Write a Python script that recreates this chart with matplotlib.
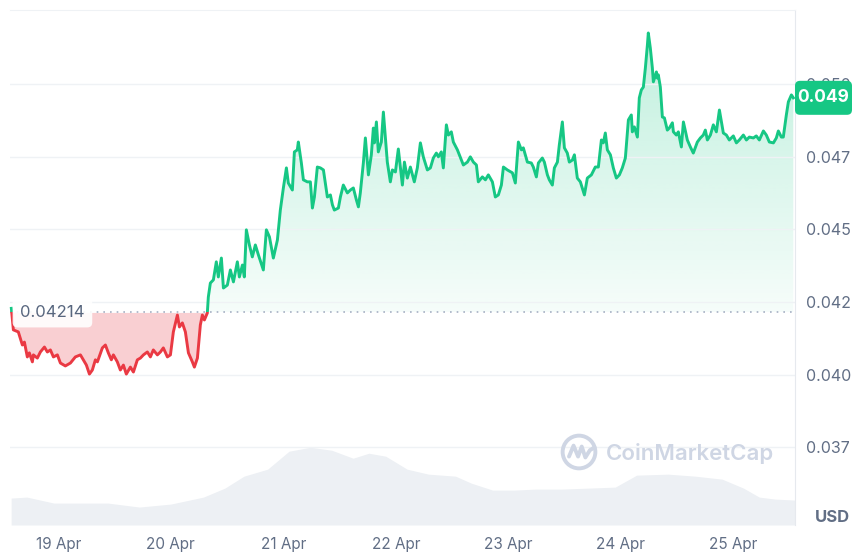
import numpy as np
import matplotlib
matplotlib.use("Agg")
import matplotlib.pyplot as plt
import matplotlib.dates as mdates
from matplotlib.patches import Rectangle, Circle, FancyBboxPatch
from matplotlib.path import Path

plt.rcParams['font.family'] = ['Inter', 'DejaVu Sans']

# --------------------------
# data
# --------------------------
start_day = np.datetime64('2024-04-19')
open_price = 0.04214
last_label = '0.049'

# time in days since 19 Apr 00:00
t_days = [
    -0.418, -0.400, -0.356, -0.320, -0.302, -0.276, -0.258, -0.231, -0.222, -0.187,
    -0.160, -0.124, -0.098, -0.071, -0.044, -0.009, 0.018, 0.062, 0.107, 0.151,
    0.196, 0.222, 0.249, 0.276, 0.302, 0.329, 0.347, 0.391, 0.418, 0.444,
    0.471, 0.489, 0.524, 0.551, 0.578, 0.604, 0.640, 0.667, 0.702, 0.729,
    0.756, 0.791, 0.818, 0.844, 0.880, 0.907, 0.933, 0.969, 0.996, 1.022,
    1.058, 1.076, 1.102, 1.129, 1.156, 1.191, 1.209, 1.236, 1.262, 1.280,
    1.298, 1.324,
    1.333, 1.351, 1.378, 1.404, 1.422, 1.449, 1.467, 1.502, 1.529, 1.556,
    1.591, 1.609, 1.636, 1.653, 1.671, 1.698, 1.724, 1.751, 1.778, 1.822,
    1.849, 1.876, 1.911, 1.947, 1.973, 2.000, 2.027, 2.044, 2.080, 2.098,
    2.124, 2.133, 2.160, 2.178, 2.213, 2.240, 2.258, 2.276, 2.302, 2.329,
    2.356, 2.391, 2.418, 2.436, 2.453, 2.489, 2.507, 2.533, 2.569, 2.596,
    2.622, 2.649, 2.667,
    2.684, 2.711, 2.729, 2.756, 2.782, 2.800, 2.809, 2.827, 2.844, 2.871,
    2.889, 2.924, 2.951, 2.969, 2.996, 3.022, 3.058, 3.076, 3.102, 3.129,
    3.164, 3.191, 3.218, 3.244, 3.280, 3.307, 3.333, 3.360, 3.378, 3.404,
    3.422, 3.449, 3.467, 3.493, 3.511, 3.547, 3.564, 3.600, 3.636, 3.662,
    3.689, 3.716, 3.733, 3.769, 3.796, 3.822, 3.858, 3.884, 3.911, 3.938,
    3.956, 3.991,
    4.036, 4.062, 4.089, 4.116, 4.133, 4.169, 4.204, 4.222, 4.249, 4.267,
    4.302, 4.320, 4.347, 4.364, 4.391, 4.409, 4.436, 4.453, 4.480, 4.498,
    4.524, 4.542, 4.569, 4.587, 4.613, 4.640, 4.676, 4.702, 4.738, 4.773,
    4.800, 4.827, 4.844, 4.862, 4.880, 4.907, 4.933, 4.960, 4.987, 5.013,
    5.040, 5.067, 5.093, 5.102, 5.120, 5.147, 5.164, 5.182, 5.200, 5.218,
    5.236, 5.244, 5.262, 5.280, 5.289, 5.316, 5.324, 5.333, 5.351, 5.369,
    5.387, 5.413, 5.431, 5.458, 5.467, 5.493, 5.511, 5.538, 5.556, 5.591,
    5.618, 5.644, 5.680, 5.707, 5.733, 5.751, 5.769, 5.796, 5.822, 5.849,
    5.876, 5.911, 5.938, 5.964, 6.000, 6.027, 6.053, 6.089, 6.116, 6.142,
    6.178, 6.204, 6.231, 6.267, 6.293, 6.320, 6.356, 6.382, 6.400, 6.427,
    6.444, 6.471, 6.489, 6.516, 6.533,
]

price = [
    0.04228, 0.04154, 0.04147, 0.04102, 0.04112, 0.04061, 0.04075, 0.04044, 0.04068, 0.04057,
    0.04078, 0.04095, 0.04078, 0.04085, 0.04061, 0.04068, 0.04040, 0.04030, 0.04040, 0.04061,
    0.04068, 0.04051, 0.04033, 0.04002, 0.04016, 0.04051, 0.04044, 0.04092, 0.04102, 0.04075,
    0.04051, 0.04068, 0.04044, 0.04016, 0.04033, 0.04002, 0.04026, 0.04009, 0.04051, 0.04057,
    0.04068, 0.04078, 0.04061, 0.04085, 0.04068, 0.04078, 0.04092, 0.04061, 0.04068, 0.04147,
    0.04205, 0.04164, 0.04178, 0.04147, 0.04075, 0.04044, 0.04026, 0.04057, 0.04171, 0.04205,
    0.04188, 0.04212,
    0.04267, 0.04315, 0.04326, 0.04388, 0.04336, 0.04401, 0.04298, 0.04308, 0.04360, 0.04319,
    0.04388, 0.04336, 0.04377, 0.04336, 0.04498, 0.04446, 0.04405, 0.04446, 0.04412, 0.04360,
    0.04498, 0.04474, 0.04401, 0.04463, 0.04566, 0.04642, 0.04711, 0.04659, 0.04635, 0.04766,
    0.04773, 0.04800, 0.04728, 0.04670, 0.04663, 0.04663, 0.04573, 0.04611, 0.04714, 0.04711,
    0.04704, 0.04611, 0.04618, 0.04584, 0.04566, 0.04573, 0.04611, 0.04652, 0.04625, 0.04635,
    0.04642, 0.04601, 0.04577,
    0.04625, 0.04728, 0.04814, 0.04687, 0.04756, 0.04848, 0.04797, 0.04869, 0.04766, 0.04800,
    0.04903, 0.04731, 0.04663, 0.04704, 0.04697, 0.04776, 0.04652, 0.04731, 0.04676, 0.04714,
    0.04663, 0.04711, 0.04797, 0.04749, 0.04704, 0.04711, 0.04745, 0.04762, 0.04749, 0.04766,
    0.04711, 0.04859, 0.04824, 0.04835, 0.04800, 0.04773, 0.04756, 0.04721, 0.04731, 0.04749,
    0.04731, 0.04721, 0.04663, 0.04680, 0.04670, 0.04687, 0.04663, 0.04611, 0.04618, 0.04652,
    0.04714, 0.04704,
    0.04694, 0.04659, 0.04800, 0.04773, 0.04780, 0.04731, 0.04728, 0.04714, 0.04680, 0.04728,
    0.04745, 0.04731, 0.04687, 0.04670, 0.04652, 0.04711, 0.04731, 0.04790, 0.04869, 0.04780,
    0.04762, 0.04731, 0.04738, 0.04756, 0.04676, 0.04663, 0.04618, 0.04676, 0.04687, 0.04714,
    0.04714, 0.04807, 0.04797, 0.04831, 0.04773, 0.04756, 0.04711, 0.04676, 0.04687, 0.04711,
    0.04745, 0.04876, 0.04893, 0.04835, 0.04852, 0.04817, 0.04952, 0.04979, 0.04989, 0.05055,
    0.05134, 0.05175, 0.05123, 0.05055, 0.05007, 0.05041, 0.05020, 0.05031, 0.04989, 0.04886,
    0.04883, 0.04841, 0.04848, 0.04866, 0.04835, 0.04824, 0.04835, 0.04783, 0.04869, 0.04807,
    0.04783, 0.04762, 0.04800, 0.04814, 0.04824, 0.04841, 0.04807, 0.04824, 0.04859, 0.04835,
    0.04910, 0.04831, 0.04824, 0.04807, 0.04821, 0.04797, 0.04807, 0.04824, 0.04807, 0.04817,
    0.04814, 0.04821, 0.04807, 0.04838, 0.04824, 0.04800, 0.04797, 0.04814, 0.04838, 0.04817,
    0.04817, 0.04893, 0.04938, 0.04962, 0.04952,
]

# volume (millions USD, rough reading of the grey area)
vol_days = [-0.42, -0.28, -0.04, 0.44, 0.72, 1.00, 1.29, 1.48, 1.65, 1.86,
            2.05, 2.24, 2.43, 2.62, 2.76, 2.91, 3.10, 3.29, 3.53, 3.67,
            3.86, 4.05, 4.24, 4.47, 4.71, 4.95, 5.14, 5.42, 5.66, 5.90,
            6.09, 6.23, 6.37, 6.55]
volume = [2.7, 2.8, 2.2, 2.2, 1.8, 2.1, 2.8, 3.7, 4.9, 5.6,
          7.4, 7.8, 7.5, 6.7, 7.2, 6.9, 5.6, 5.1, 4.9, 4.2,
          3.5, 3.5, 3.6, 3.6, 3.7, 3.8, 5.0, 5.1, 4.9, 4.6,
          3.7, 2.8, 2.6, 2.5]

price_ticks = [0.0375, 0.0400, 0.0425, 0.0450, 0.0475, 0.0500]
price_tick_labels = ['0.037', '0.040', '0.042', '0.045', '0.047', '0.050']

# --------------------------
# styling
# --------------------------
green = '#16c784'
red = '#ea3943'
grey_text = '#616e85'
grid_col = '#eff2f5'

W, H = 856, 556
fig = plt.figure(figsize=(W / 100, H / 100), dpi=100)
rect = [10 / W, 1 - 525 / H, 785 / W, 515 / H]

# volume axes behind the price axes
vax = fig.add_axes(rect, zorder=0)
ax = fig.add_axes(rect, zorder=1)
ax.patch.set_alpha(0)

x0 = mdates.date2num(start_day)
x = x0 + np.array(t_days)
p = np.array(price)
vx = x0 + np.array(vol_days)

xlim = (x0 - 0.43, x0 + 6.548)
ylim = (0.03483, 0.05254)

vax.fill_between(vx, 0, volume, color='#edf0f4', lw=0)
vax.set_xlim(xlim)
vax.set_ylim(0, max(volume) / 0.151)
vax.axis('off')

# price fills
upper = np.maximum(p, open_price)
lower = np.minimum(p, open_price)
g_poly = ax.fill_between(x, open_price, upper, color='none', lw=0)
ax.fill_between(x, lower, open_price, color=red, alpha=0.24, lw=0)

# vertical gradient for the green area
grad = np.linspace(0.04, 0.27, 256).reshape(-1, 1)
rgba = np.zeros((256, 1, 4))
rgba[..., 0] = 0x16 / 255
rgba[..., 1] = 0xc7 / 255
rgba[..., 2] = 0x84 / 255
rgba[..., 3] = grad
img = ax.imshow(rgba, extent=(xlim[0], xlim[1], open_price, max(price)),
                origin='lower', aspect='auto', zorder=1, interpolation='bilinear')
img.set_clip_path(Path.make_compound_path(*g_poly.get_paths()), ax.transData)

# line, green above the open price and red below
for col, lo, hi in [(green, open_price, 1.0), (red, 0.0, open_price)]:
    ln, = ax.plot(x, p, color=col, lw=2.1, zorder=3, solid_joinstyle='round')
    clip = Rectangle((xlim[0] - 1, lo), 10, hi - lo, transform=ax.transData)
    ln.set_clip_path(clip)

# open price dotted line
ax.axhline(open_price, color='#a6b0c3', lw=1.2, ls=(0, (1, 3)), zorder=2)

ax.set_xlim(xlim)
ax.set_ylim(ylim)

# axes styling
for s in ['left', 'bottom']:
    ax.spines[s].set_visible(False)
ax.spines['top'].set_color(grid_col)
ax.spines['right'].set_color('#e6e9ee')
ax.set_yticks(price_ticks)
ax.set_yticklabels(price_tick_labels)
ax.yaxis.tick_right()
ax.grid(axis='y', color=grid_col, lw=1, zorder=0)
ax.tick_params(axis='y', length=0, pad=8, labelsize=11.5, labelcolor=grey_text)
ax.xaxis.set_major_locator(mdates.DayLocator())
ax.xaxis.set_major_formatter(mdates.DateFormatter('%-d %b'))
ax.tick_params(axis='x', length=0, pad=9, labelsize=11, labelcolor=grey_text)

# open price label
ax.text(xlim[0] + 0.09, open_price, '0.04214', ha='left', va='center',
        fontsize=12, color='#58667e', zorder=5,
        bbox=dict(boxstyle='round,pad=0.45,rounding_size=0.3', fc='white',
                  ec='none', alpha=0.9))

# last price box on the right (drawn in pixel coordinates next to the axis)
y_last = ax.transData.transform((x[-1], p[-1]))[1]
box = FancyBboxPatch((795, y_last - 17), 57, 34,
                     boxstyle='round,pad=0,rounding_size=5',
                     fc=green, ec='none', transform=None, zorder=10)
fig.add_artist(box)
fig.text(823.5 / W, y_last / H, last_label, ha='center', va='center',
         fontsize=12.5, fontweight='bold', color='white', zorder=11)

fig.text(850 / W, 1 - 518 / H, 'USD', ha='right', va='center',
         fontsize=12, fontweight='bold', color=grey_text)

# watermark
wm = '#cfd6e4'
fig.text(606 / W, 1 - 453 / H, 'CoinMarketCap', ha='left', va='center',
         fontsize=16, fontweight='semibold', color=wm)
lax = fig.add_axes([559 / W, 1 - 472 / H, 40 / W, 40 / H], zorder=2)
lax.set_xlim(-1.1, 1.1)
lax.set_ylim(-1.1, 1.1)
lax.axis('off')
lax.add_patch(Circle((0, 0), 0.9, fill=False, ec=wm, lw=2.8))
lax.plot([-0.55, -0.3, -0.05, 0.15, 0.35, 0.6, 0.85],
         [-0.25, 0.35, -0.25, 0.3, -0.3, 0.1, 0.25], color=wm, lw=2.8,
         solid_joinstyle='round', solid_capstyle='round')

plt.savefig('out.png', dpi=100)
